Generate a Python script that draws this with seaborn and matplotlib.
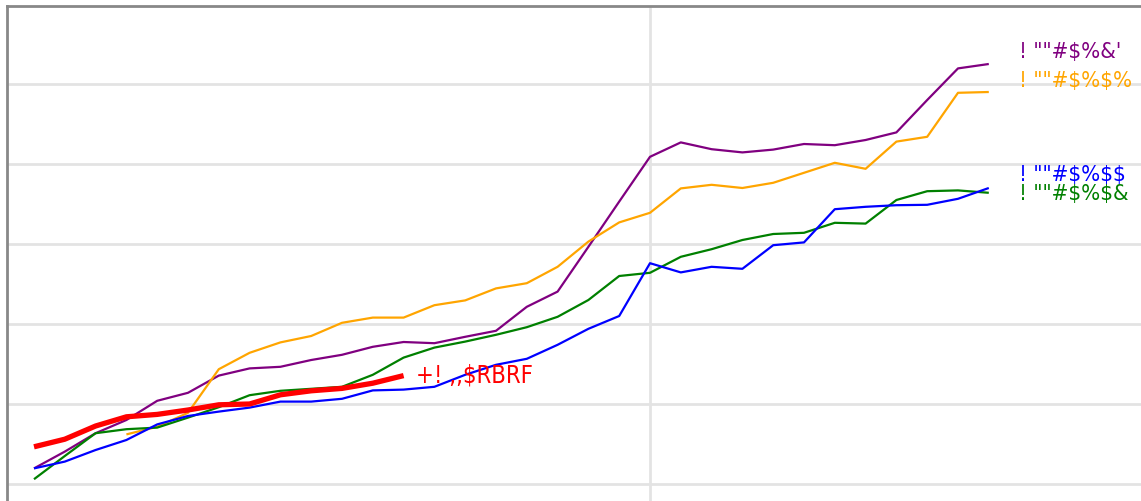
import matplotlib
matplotlib.use("Agg")
import matplotlib.pyplot as plt
import seaborn as sns
import pandas as pd
import numpy as np

# Data (one value per year)
years = list(range(1990, 2022))

purple_vals = [3.9, 8.1, 12.7, 16.0, 20.8, 22.8, 27.1, 28.9, 29.3, 31.0,
               32.3, 34.3, 35.5, 35.2, 36.8, 38.3, 44.3, 48.1, 59.3, 70.6,
               81.8, 85.4, 83.7, 82.9, 83.6, 85.0, 84.7, 86.0, 87.9, 96.0,
               103.9, 105.0]
orange_vals = [None, None, None, 12.4, 14.3, 17.8, 28.7, 32.8, 35.4, 37.0,
               40.3, 41.6, 41.6, 44.7, 45.9, 48.9, 50.2, 54.3, 60.6, 65.4,
               67.8, 73.9, 74.8, 74.0, 75.3, 77.8, 80.3, 78.8, 85.6, 86.8,
               97.8, 98.0]
blue_vals = [3.9, 5.6, 8.5, 11.0, 14.9, 17.0, 18.1, 19.1, 20.6, 20.6,
             21.3, 23.4, 23.6, 24.3, 27.3, 29.8, 31.3, 34.8, 38.8, 42.0,
             55.2, 52.9, 54.3, 53.8, 59.7, 60.4, 68.7, 69.3, 69.7, 69.8,
             71.3, 74.0]
green_vals = [1.2, 7.0, 12.7, 13.7, 14.1, 16.6, 19.2, 22.2, 23.3, 23.8,
              24.3, 27.3, 31.6, 34.1, 35.6, 37.3, 39.2, 41.8, 46.0, 52.0,
              52.8, 56.8, 58.7, 61.0, 62.5, 62.8, 65.3, 65.1, 71.0, 73.2,
              73.4, 72.8]
red_vals = [9.3, 11.2, 14.5, 16.8, 17.4, 18.5, 19.8, 20.0, 22.3, 23.3,
            23.9, 25.2, 27.1]

labels = {
    "purple": "! \"\"#$%&'",
    "orange": "! \"\"#$%$%",
    "blue": "! \"\"#$%$$",
    "green": "! \"\"#$%$&",
    "red": "+! ,,$RBRF",
}

plt.rcParams['font.family'] = ['DejaVu Sans']
plt.rcParams['text.parse_math'] = False

fig = plt.figure(figsize=(11.41, 5.01), dpi=100)
W, H = 1141, 501
ax = fig.add_axes([7 / W, -9 / H, (1150 - 7) / W, (510 - 6) / H])

series = [("purple", purple_vals, 1.6), ("orange", orange_vals, 1.6),
          ("green", green_vals, 1.6), ("blue", blue_vals, 1.6),
          ("red", red_vals, 3.8)]

for color, vals, lw in series:
    df = pd.DataFrame({"year": years[:len(vals)], "value": vals}).dropna()
    sns.lineplot(data=df, x="year", y="value", color=color, linewidth=lw,
                 ax=ax, solid_capstyle="butt")

# end labels (offsets in pixels)
label_offsets = {
    "purple": (30, 12), "orange": (30, 11), "blue": (30, 13),
    "green": (30, -1), "red": (12, 0),
}
for color, vals, lw in series:
    ex = years[len(vals) - 1]
    ey = vals[-1]
    dx, dy = label_offsets[color]
    size = 17 if color == "red" else 16
    ax.annotate(labels[color], (ex, ey), xytext=(dx * 0.72, dy * 0.72),
                textcoords="offset points", color=color, fontsize=size,
                fontstretch="condensed", va="center", ha="left",
                annotation_clip=False)

# limits: left spine 27px before first year, 30.8px per year
ax.set_xlim(1990 - 27 / 30.8, 1990 + (1150 - 34) / 30.8)
ax.set_ylim(-6.5, 119.5)

ax.set_yticks([0, 20, 40, 60, 80, 100])
ax.set_xticks([2010])
ax.grid(True, color="#e3e3e3", linewidth=2)
ax.set_axisbelow(True)
ax.tick_params(length=0, labelleft=False, labelbottom=False)
ax.set_xlabel("")
ax.set_ylabel("")

for s in ["right", "bottom"]:
    ax.spines[s].set_visible(False)
for s in ["top", "left"]:
    ax.spines[s].set_color("#888888")
    ax.spines[s].set_linewidth(2)

fig.savefig("out.png", dpi=100)
